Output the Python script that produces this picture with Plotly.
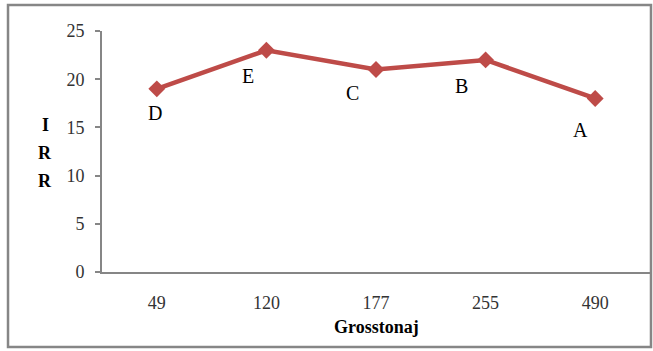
import plotly.graph_objects as go

# Gross tonnage classes and internal rate of return per vessel group
grosstonaj = ["49", "120", "177", "255", "490"]
irr = [19, 23, 21, 22, 18]
vessel_group = ["D", "E", "C", "B", "A"]

# label offsets in pixels (x, y) relative to each point
label_shift = [(-2, -24), (-18, -26), (-24, -23), (-24, -26), (-15, -32)]

SERIF = "Liberation Serif, DejaVu Serif, serif"
AXIS_GRAY = "#868686"
LINE_RED = "#BE4B48"

fig = go.Figure()
fig.add_trace(go.Scatter(
    x=grosstonaj, y=irr, mode="lines+markers",
    line=dict(color=LINE_RED, width=4.5),
    marker=dict(symbol="diamond", size=13, color=LINE_RED),
    showlegend=False, hoverinfo="skip",
))

annotations = []
# category axis annotations are positioned by category index
for i, (yv, lab, (dx, dy)) in enumerate(zip(irr, vessel_group, label_shift)):
    annotations.append(dict(
        x=i, y=yv, xref="x", yref="y", text=lab, showarrow=False,
        xshift=dx, yshift=dy, font=dict(family=SERIF, size=20, color="#000000"),
    ))

# vertically stacked y-axis title
for i, ch in enumerate("IRR"):
    annotations.append(dict(
        x=-0.104, y=0.494, xref="paper", yref="paper", text=f"<b>{ch}</b>",
        showarrow=False, yshift=-28 * i + 28, xanchor="center", yanchor="middle",
        font=dict(family=SERIF, size=18, color="#000000"),
    ))

annotations.append(dict(
    x=0.5, y=-0.228, xref="paper", yref="paper", text="<b>Grosstonaj</b>",
    showarrow=False, xanchor="center", yanchor="middle",
    font=dict(family=SERIF, size=18, color="#000000"),
))

fig.update_layout(
    width=653, height=351,
    margin=dict(l=102, r=3, t=31, b=79),
    paper_bgcolor="white", plot_bgcolor="white",
    annotations=annotations,
    shapes=[dict(
        type="rect", xref="paper", yref="paper",
        x0=-0.1715, x1=1.0018, y0=-0.311, y1=1.108,
        line=dict(color=AXIS_GRAY, width=2.5), fillcolor="rgba(0,0,0,0)", layer="below",
    )],
    xaxis=dict(
        type="category", range=[-0.5, 4.5],
        showline=True, linecolor=AXIS_GRAY, linewidth=2,
        showgrid=False, zeroline=False,
        ticks="outside", ticklen=13, tickcolor="rgba(0,0,0,0)",
        tickfont=dict(family=SERIF, size=18, color="#333333"),
    ),
    yaxis=dict(
        range=[0, 25], dtick=5,
        showline=True, linecolor=AXIS_GRAY, linewidth=2,
        showgrid=False, zeroline=False,
        ticks="outside", ticklen=5, tickcolor=AXIS_GRAY, tickwidth=1.5,
        ticklabelstandoff=7,
        tickfont=dict(family=SERIF, size=18, color="#333333"),
    ),
)

fig.write_html("out.html")
